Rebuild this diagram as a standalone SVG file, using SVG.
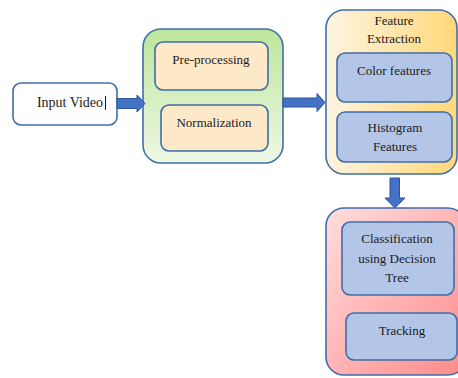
<svg xmlns="http://www.w3.org/2000/svg" width="458" height="378" viewBox="0 0 458 378">
<defs>
<linearGradient id="gGreen" x1="0" y1="0" x2="0" y2="1">
<stop offset="0" stop-color="#bde59a"/>
<stop offset="1" stop-color="#eef8e6"/>
</linearGradient>
<linearGradient id="gOrange" x1="0" y1="0" x2="1" y2="0">
<stop offset="0" stop-color="#fff4e2"/>
<stop offset="1" stop-color="#ffd878"/>
</linearGradient>
<linearGradient id="gRed" x1="0" y1="0" x2="1" y2="1">
<stop offset="0" stop-color="#ffdede"/>
<stop offset="1" stop-color="#ff8a8a"/>
</linearGradient>
</defs>
<style>
.box{stroke:#3f6ea8;stroke-width:1.6}
.inblue{fill:#b4c6e7;stroke:#3f6ea8;stroke-width:1.6}
.inorange{fill:#fde8c8;stroke:#3f6ea8;stroke-width:1.6}
.t{font-family:"Liberation Serif","Times New Roman",serif;font-size:13px;fill:#1a1a1a;text-anchor:middle}
.arrow{fill:#4472c4;stroke:#2f5597;stroke-width:1}
</style>
<rect width="458" height="378" fill="#ffffff"/>
<g id="input">
<rect class="box" x="13" y="83" width="104" height="42" rx="8" fill="#ffffff"/>
<text class="t" x="70" y="107" style="font-size:14px">Input Video</text>
<line x1="105.5" y1="96" x2="105.5" y2="110" stroke="#000" stroke-width="0.9"/>
</g>
<g id="preprocess-group">
<rect class="box" x="143" y="29" width="140" height="134" rx="18" fill="url(#gGreen)"/>
<g id="preprocessing">
<rect class="inorange" x="155" y="42" width="113" height="48" rx="8"/>
<text class="t" x="211" y="64">Pre-processing</text>
</g>
<g id="normalization">
<rect class="inorange" x="161" y="105" width="107" height="46" rx="8"/>
<text class="t" x="214" y="127">Normalization</text>
</g>
</g>
<g id="feature-group">
<rect class="box" x="326" y="10" width="131" height="164" rx="18" fill="url(#gOrange)"/>
<text class="t" x="394" y="25">Feature</text>
<text class="t" x="394" y="43">Extraction</text>
<g id="color-features">
<rect class="inblue" x="337" y="53" width="115" height="49" rx="8"/>
<text class="t" x="394" y="75">Color features</text>
</g>
<g id="histogram-features">
<rect class="inblue" x="337" y="112" width="115" height="50" rx="8"/>
<text class="t" x="395" y="132">Histogram</text>
<text class="t" x="395" y="151">Features</text>
</g>
</g>
<g id="classification-group">
<rect class="box" x="326" y="208" width="140" height="167" rx="18" fill="url(#gRed)"/>
<g id="classification">
<rect class="inblue" x="342" y="222" width="112" height="73" rx="8"/>
<text class="t" x="397" y="243">Classification</text>
<text class="t" x="397" y="263">using Decision</text>
<text class="t" x="397" y="282">Tree</text>
</g>
<g id="tracking">
<rect class="inblue" x="346" y="313" width="111" height="47" rx="8"/>
<text class="t" x="402" y="335">Tracking</text>
</g>
</g>
<g id="connectors">
<polygon class="arrow" points="117,98.5 137,98.5 137,95 145,103.5 137,112 137,108.5 117,108.5"/>
<polygon class="arrow" points="283,98 317,98 317,93.5 325,102.5 317,111.5 317,107 283,107"/>
<polygon class="arrow" points="390,178 399.5,178 399.5,198 405,198 394.7,208 385,198 390,198"/>
</g>
</svg>
